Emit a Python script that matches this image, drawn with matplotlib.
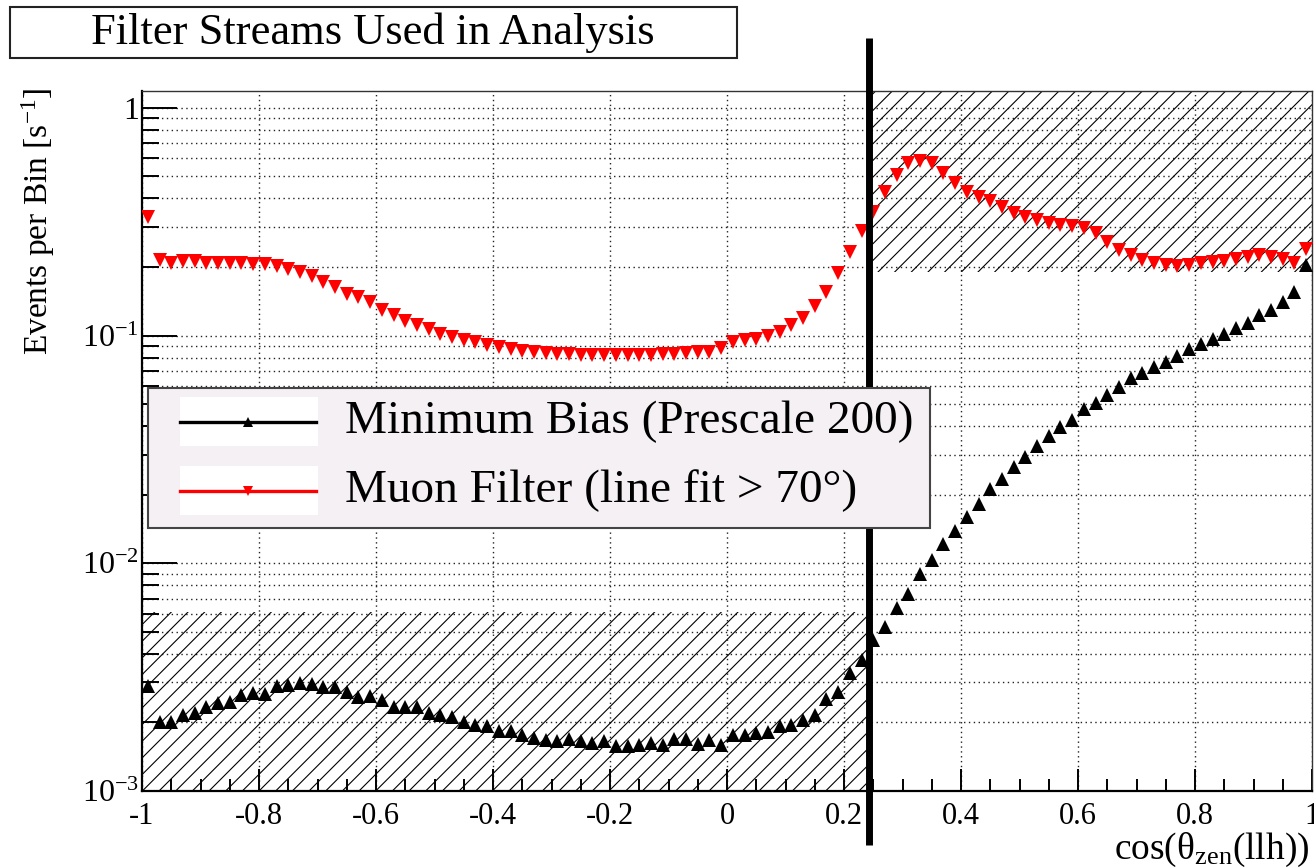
import numpy as np
import matplotlib
matplotlib.use("Agg")
import matplotlib.pyplot as plt
from matplotlib.patches import Rectangle
from matplotlib.lines import Line2D
from matplotlib.ticker import FixedLocator, MultipleLocator, FuncFormatter, NullFormatter

plt.rcParams['font.family'] = ['Liberation Serif', 'DejaVu Serif']
plt.rcParams['mathtext.fontset'] = 'custom'
plt.rcParams['mathtext.rm'] = 'Liberation Serif'
plt.rcParams['mathtext.it'] = 'Liberation Serif:italic'
plt.rcParams['hatch.linewidth'] = 0.8

# ---- data: 100 bins in cos(zenith) from -1 to 1 ----
x_low, x_high, n_bins = -1.0, 1.0, 100
min_bias = [
    2.9e-3, 2.0e-3, 2.0e-3, 2.16e-3, 2.21e-3, 2.35e-3, 2.44e-3, 2.47e-3, 2.64e-3, 2.69e-3,
    2.67e-3, 2.89e-3, 2.92e-3, 2.97e-3, 2.95e-3, 2.85e-3, 2.85e-3, 2.73e-3, 2.59e-3, 2.62e-3,
    2.51e-3, 2.33e-3, 2.34e-3, 2.34e-3, 2.19e-3, 2.16e-3, 2.11e-3, 2.0e-3, 1.95e-3, 1.92e-3,
    1.84e-3, 1.83e-3, 1.76e-3, 1.71e-3, 1.67e-3, 1.65e-3, 1.70e-3, 1.66e-3, 1.62e-3, 1.66e-3,
    1.57e-3, 1.58e-3, 1.59e-3, 1.63e-3, 1.59e-3, 1.70e-3, 1.70e-3, 1.61e-3, 1.67e-3, 1.59e-3,
    1.76e-3, 1.76e-3, 1.79e-3, 1.82e-3, 1.92e-3, 1.95e-3, 2.05e-3, 2.16e-3, 2.53e-3, 2.73e-3,
    3.29e-3, 3.76e-3, 4.6e-3, 5.23e-3, 6.35e-3, 7.33e-3, 8.98e-3, 0.0103, 0.0122, 0.0138,
    0.0160, 0.0182, 0.0213, 0.0234, 0.0264, 0.0294, 0.0327, 0.0362, 0.0398, 0.0426,
    0.0474, 0.0507, 0.0548, 0.0597, 0.0649, 0.0683, 0.0730, 0.0768, 0.0813, 0.0870,
    0.0918, 0.0963, 0.102, 0.108, 0.114, 0.123, 0.129, 0.141, 0.156, 0.204,
]
muon_filter = [
    0.333, 0.215, 0.209, 0.212, 0.212, 0.209, 0.209, 0.209, 0.209, 0.206,
    0.206, 0.202, 0.197, 0.191, 0.183, 0.172, 0.163, 0.153, 0.147, 0.141,
    0.129, 0.123, 0.116, 0.111, 0.107, 0.102, 0.0989, 0.0957, 0.094, 0.091,
    0.0893, 0.0873, 0.0859, 0.085, 0.084, 0.083, 0.083, 0.082, 0.082, 0.082,
    0.082, 0.082, 0.082, 0.082, 0.083, 0.083, 0.084, 0.085, 0.085, 0.088,
    0.094, 0.096, 0.097, 0.0996, 0.104, 0.111, 0.119, 0.135, 0.156, 0.188,
    0.234, 0.288, 0.350, 0.429, 0.507, 0.571, 0.585, 0.571, 0.516, 0.467,
    0.429, 0.407, 0.388, 0.368, 0.347, 0.331, 0.322, 0.311, 0.306, 0.303,
    0.296, 0.281, 0.258, 0.238, 0.226, 0.215, 0.208, 0.205, 0.202, 0.205,
    0.208, 0.211, 0.213, 0.218, 0.222, 0.226, 0.222, 0.218, 0.209, 0.241,
]
labels = ["Minimum Bias (Prescale 200)", "Muon Filter (line fit > 70\u00b0)"]

# selection: zenith cut and rate-based exclusion bands
cos_cut = 0.242
low_band_top = 6.1e-3
high_band_bottom = 0.19
y_min, y_max = 1e-3, 1.186

edges = np.linspace(x_low, x_high, n_bins + 1)
centers = 0.5 * (edges[:-1] + edges[1:])

W, H = 1314, 868
fig = plt.figure(figsize=(W / 100, H / 100), dpi=100)
ax = fig.add_axes([142 / W, (H - 791) / H, 1170 / W, 700 / H])
ax.set_yscale('log')
ax.set_xlim(x_low, x_high)
ax.set_ylim(y_min, y_max)

# grid
grid_kw = dict(color='#222222', linestyle=(0, (1, 2.5)), linewidth=1.0)
ax.xaxis.set_major_locator(MultipleLocator(0.2))
ax.xaxis.set_minor_locator(MultipleLocator(0.05))
ax.grid(True, which='major', axis='x', **grid_kw)
ax.yaxis.set_major_locator(FixedLocator([1e-3, 1e-2, 1e-1, 1]))
ax.yaxis.set_minor_locator(FixedLocator([m * 10.0 ** e for e in (-3, -2, -1) for m in range(2, 10)]))
ax.grid(True, which='both', axis='y', **grid_kw)
ax.set_axisbelow(True)

ylab = {1e-3: '$10^{-3}$', 1e-2: '$10^{-2}$', 1e-1: '$10^{-1}$', 1: '1'}
ax.yaxis.set_major_formatter(FuncFormatter(lambda v, p: ylab.get(round(v, 6) if v < 1 else 1, '')))
ax.yaxis.set_minor_formatter(NullFormatter())


def xfmt(v, p):
    s = '%g' % round(v, 2)
    return '0' if s in ('-0', '0') else s


ax.xaxis.set_major_formatter(FuncFormatter(xfmt))

ax.tick_params(axis='y', which='major', direction='in', length=25, width=1.4, labelsize=23, pad=2)
ax.tick_params(axis='y', which='minor', direction='in', length=12, width=1.4)
ax.tick_params(axis='x', which='major', direction='in', length=16, width=1.4, labelsize=22, pad=8)
ax.tick_params(axis='x', which='minor', direction='in', length=8.5, width=1.4)
ax.tick_params(top=False, right=False, which='both')
for side in ('left', 'bottom'):
    ax.spines[side].set_linewidth(1.6)
for side in ('top', 'right'):
    ax.spines[side].set_linewidth(1.0)
    ax.spines[side].set_color('#333333')

# excluded regions
ax.add_patch(Rectangle((x_low, y_min), cos_cut - x_low, low_band_top - y_min,
                       facecolor='none', edgecolor='black', linewidth=0, hatch='//', zorder=2))
ax.add_patch(Rectangle((cos_cut, high_band_bottom), x_high - cos_cut, y_max - high_band_bottom,
                       facecolor='none', edgecolor='black', linewidth=0, hatch='//', zorder=2))

# rates
ax.plot(centers, min_bias, linestyle='none', marker='^', color='black', markersize=10,
        markeredgewidth=0, zorder=4, clip_on=True)
ax.plot(centers, muon_filter, linestyle='none', marker='v', color='#ff0000', markersize=10,
        markeredgewidth=0, zorder=4, clip_on=True)

# zenith cut line
ax.plot([cos_cut, cos_cut], [-0.077, 1.0757], transform=ax.get_xaxis_transform(),
        color='black', linewidth=5, clip_on=False, zorder=6, solid_capstyle='butt')

# title box
fig.add_artist(Rectangle((10 / W, 1 - 58 / H), 727 / W, 51 / H, transform=fig.transFigure,
                         facecolor='white', edgecolor='#222222', linewidth=1.5, zorder=5))
fig.text(373 / W, 1 - 33 / H, "Filter Streams Used in Analysis", ha='center', va='center',
         fontsize=32, zorder=6)

# axis titles
fig.text(38 / W, 1 - 88 / H, "Events per Bin [s$^{-1}$]", rotation=90, ha='center', va='top',
         fontsize=24)
fig.text(1310 / W, 1 - 850 / H, "cos(\u03b8$_{\\mathrm{zen}}$(llh))", ha='right', va='center',
         fontsize=27)

# legend
fig.add_artist(Rectangle((148 / W, 1 - 528 / H), 782 / W, 140 / H, transform=fig.transFigure,
                         facecolor='#f4f0f4', edgecolor='#444444', linewidth=1.5, zorder=7))
styles = [('black', '^', 422), ('#ff0000', 'v', 491)]
for (col, mk, yc), lab in zip(styles, labels):
    fig.add_artist(Rectangle((180 / W, 1 - (yc + 24) / H), 138 / W, 49 / H, transform=fig.transFigure,
                             facecolor='white', edgecolor='none', zorder=8))
    fig.add_artist(Line2D([180 / W, 316 / W], [1 - yc / H, 1 - yc / H], transform=fig.transFigure,
                          color=col, linewidth=2.4, zorder=9))
    fig.add_artist(Line2D([248 / W], [1 - yc / H], transform=fig.transFigure, color=col,
                          marker=mk, markersize=7, markeredgewidth=0, linestyle='none', zorder=10))
    fig.text(345 / W, 1 - yc / H, lab, ha='left', va='center', fontsize=34, zorder=10)

fig.savefig('out.png', dpi=100)
